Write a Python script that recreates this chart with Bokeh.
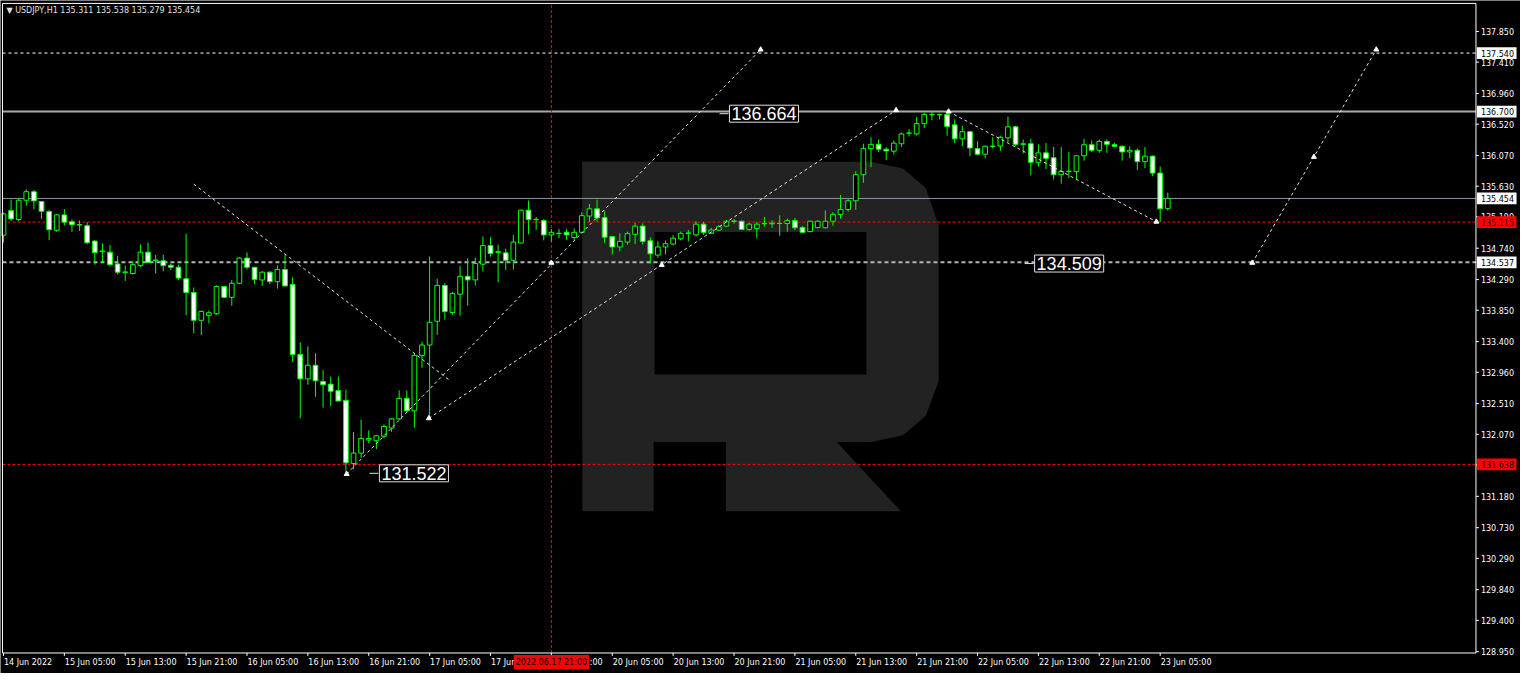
from bokeh.plotting import figure
from bokeh.models import Range1d, Label
from bokeh.embed import file_html
from bokeh.resources import INLINE
from bokeh.core.properties import value

# ---------------- data (USDJPY H1, bar index 0 = 14 Jun 21:00) ----------------
opens = [134.927, 135.28, 135.152, 135.429, 135.551, 135.41, 135.265, 134.997, 135.218, 135.119,
         135.072, 135.063, 134.842, 134.69, 134.683, 134.514, 134.39, 134.377, 134.49, 134.683,
         134.56, 134.56, 134.495, 134.467, 134.302, 134.105, 133.706, 133.777, 133.80, 134.19,
         134.035, 134.237, 134.598, 134.467, 134.284, 134.396, 134.26, 134.434, 134.22, 133.216,
         132.865, 133.061, 132.828, 132.79, 132.697, 132.557, 131.651, 131.80, 131.987, 131.978,
         132.043, 132.16, 132.291, 132.585, 132.407, 133.202, 133.351, 133.692, 134.206, 133.818,
         134.08, 134.337, 134.285, 134.511, 134.777, 134.68, 134.674, 134.567, 134.814, 135.286,
         135.15, 135.137, 134.931, 134.95, 134.968, 134.894, 134.968, 135.202, 135.305, 135.179,
         134.908, 134.758, 134.828, 134.94, 135.057, 134.847, 134.641, 134.758, 134.80, 134.875,
         134.95, 134.931, 135.085, 134.954, 135.001, 135.057, 135.125, 135.127, 135.01, 135.024,
         135.09, 135.09, 135.095, 135.094, 135.136, 135.038, 134.978, 135.038, 135.034, 135.127,
         135.225, 135.295, 135.421, 135.795, 136.169, 136.23, 136.16, 136.132, 136.239, 136.39,
         136.379, 136.529, 136.655, 136.655, 136.66, 136.51, 136.309, 136.412, 136.169, 136.089,
         136.20, 136.206, 136.323, 136.482, 136.23, 136.239, 135.973, 136.108, 136.038, 135.795,
         135.84, 135.842, 136.066, 136.225, 136.145, 136.272, 136.225, 136.202, 136.122, 136.145,
         135.982, 136.061, 135.818, 135.311]
highs = [135.25, 135.44, 135.457, 135.584, 135.575, 135.415, 135.288, 135.232, 135.302, 135.152,
         135.138, 135.114, 134.856, 134.81, 134.786, 134.631, 134.49, 134.551, 134.795, 134.823,
         134.645, 134.645, 134.518, 134.504, 134.95, 134.176, 133.847, 133.847, 134.208, 134.199,
         134.284, 134.612, 134.678, 134.471, 134.41, 134.41, 134.495, 134.645, 134.323, 133.388,
         133.332, 133.234, 132.991, 132.898, 132.898, 132.711, 132.104, 132.281, 132.127, 132.057,
         132.211, 132.305, 132.702, 132.697, 133.225, 133.398, 134.62, 134.30, 134.239, 134.113,
         134.486, 134.594, 134.604, 134.908, 134.898, 134.791, 134.735, 134.931, 135.295, 135.422,
         135.188, 135.155, 135.015, 135.015, 135.015, 135.024, 135.258, 135.375, 135.436, 135.272,
         134.917, 134.954, 134.978, 135.104, 135.095, 134.894, 134.838, 134.852, 134.93, 134.977,
         135.001, 135.127, 135.118, 135.034, 135.071, 135.146, 135.155, 135.137, 135.104, 135.118,
         135.188, 135.141, 135.211, 135.165, 135.174, 135.057, 135.137, 135.141, 135.281, 135.258,
         135.505, 135.445, 135.842, 136.239, 136.332, 136.30, 136.19, 136.286, 136.402, 136.449,
         136.622, 136.683, 136.706, 136.67, 136.70, 136.589, 136.496, 136.426, 136.276, 136.216,
         136.332, 136.356, 136.627, 136.496, 136.30, 136.309, 136.23, 136.248, 136.192, 136.192,
         136.122, 136.075, 136.309, 136.286, 136.30, 136.30, 136.253, 136.216, 136.202, 136.169,
         136.192, 136.07, 135.912, 135.538]
lows = [134.82, 135.13, 135.128, 135.349, 135.30, 135.16, 134.856, 134.974, 135.067, 134.974,
        134.988, 134.795, 134.504, 134.527, 134.481, 134.363, 134.27, 134.363, 134.471, 134.527,
        134.377, 134.41, 134.424, 134.284, 133.777, 133.518, 133.495, 133.659, 133.786, 134.021,
        133.917, 134.223, 134.434, 134.223, 134.199, 134.223, 134.161, 134.19, 133.108, 132.30,
        132.781, 132.608, 132.454, 132.478, 132.54, 131.522, 131.567, 131.73, 131.94, 131.856,
        132.01, 132.104, 132.277, 132.384, 132.164, 133.024, 132.29, 133.496, 133.715, 133.786,
        133.772, 133.916, 134.206, 134.403, 134.618, 134.254, 134.427, 134.431, 134.805, 134.94,
        135.001, 134.852, 134.838, 134.884, 134.861, 134.852, 134.959, 135.118, 135.118, 134.814,
        134.651, 134.697, 134.791, 134.80, 134.791, 134.52, 134.604, 134.651, 134.78, 134.852,
        134.837, 134.907, 134.931, 134.94, 134.987, 135.048, 135.094, 135.001, 134.992, 134.884,
        135.048, 135.034, 134.917, 134.977, 135.001, 134.964, 134.968, 135.024, 135.024, 135.062,
        135.164, 135.267, 135.291, 135.678, 135.903, 136.12, 136.005, 136.085, 136.192, 136.342,
        136.356, 136.463, 136.575, 136.589, 136.356, 136.248, 136.202, 136.061, 136.075, 136.029,
        136.169, 136.136, 136.262, 136.202, 136.099, 135.786, 135.912, 135.875, 135.725, 135.669,
        135.748, 135.734, 135.996, 136.122, 136.108, 136.108, 136.192, 135.996, 136.029, 135.865,
        135.889, 135.772, 135.115, 135.279]
closes = [135.232, 135.16, 135.429, 135.551, 135.419, 135.27, 135.006, 135.218, 135.114, 135.077,
          135.08, 134.819, 134.678, 134.70, 134.504, 134.396, 134.40, 134.504, 134.683, 134.537,
          134.57, 134.49, 134.467, 134.312, 134.105, 133.706, 133.833, 133.814, 134.19, 134.035,
          134.237, 134.598, 134.467, 134.293, 134.396, 134.26, 134.434, 134.199, 133.216, 132.865,
          133.061, 132.837, 132.781, 132.688, 132.548, 131.66, 131.80, 132.01, 132.01, 132.048,
          132.183, 132.291, 132.585, 132.407, 133.202, 133.351, 133.678, 134.206, 133.832, 134.089,
          134.337, 134.285, 134.52, 134.777, 134.665, 134.69, 134.567, 134.828, 135.286, 135.151,
          135.155, 134.931, 134.968, 134.955, 134.931, 134.968, 135.207, 135.305, 135.174, 134.898,
          134.758, 134.838, 134.95, 135.057, 134.838, 134.66, 134.758, 134.805, 134.884, 134.954,
          134.96, 135.085, 134.964, 135.001, 135.048, 135.127, 135.13, 135.01, 135.085, 135.085,
          135.095, 135.10, 135.094, 135.136, 135.034, 134.968, 135.127, 135.127, 135.127, 135.225,
          135.295, 135.421, 135.795, 136.169, 136.23, 136.16, 136.136, 136.248, 136.379, 136.393,
          136.529, 136.659, 136.66, 136.66, 136.487, 136.309, 136.412, 136.178, 136.089, 136.202,
          136.206, 136.332, 136.482, 136.23, 136.239, 135.973, 136.108, 136.029, 135.795, 135.842,
          135.845, 136.066, 136.225, 136.145, 136.272, 136.23, 136.202, 136.122, 136.145, 135.982,
          136.061, 135.818, 135.305, 135.454]

time_tick_idx = [0, 8, 16, 24, 32, 40, 48, 56, 64, 72, 80, 88, 96, 104, 112, 120, 128, 136, 144, 152]
time_tick_labels = ["14 Jun 2022", "15 Jun 05:00", "15 Jun 13:00", "15 Jun 21:00", "16 Jun 05:00",
                    "16 Jun 13:00", "16 Jun 21:00", "17 Jun 05:00", "17 Jun 13:00", "17 Jun 21:00",
                    "20 Jun 05:00", "20 Jun 13:00", "20 Jun 21:00", "21 Jun 05:00", "21 Jun 13:00",
                    "21 Jun 21:00", "22 Jun 05:00", "22 Jun 13:00", "22 Jun 21:00", "23 Jun 05:00"]
price_ticks = [137.850, 137.410, 136.960, 136.520, 136.070, 135.630, 135.190, 134.740, 134.290,
               133.850, 133.400, 132.960, 132.510, 132.070, 131.630, 131.180, 130.730, 130.290,
               129.840, 129.400, 128.950]
price_tick_labels = ["%.3f" % v for v in price_ticks]

# horizontal levels
level_tp = 137.540
level_high = 136.700
level_bid = 135.454
level_red1 = 135.115
level_grey = 134.537
level_red2 = 131.638
cross_idx = 72
cross_label = "2022.06.17 21:00"

# forecast (dotted) segments: bar index / price
seg_x0 = [25.0, 45.1, 55.9, 124.2, 164.1]
seg_y0 = [135.66, 131.50, 132.30, 136.70, 134.53]
seg_x1 = [58.8, 99.5, 117.3, 151.5, 180.4]
seg_y1 = [132.83, 137.59, 136.72, 135.12, 137.59]
mark_x = [45.1, 55.9, 72.0, 86.5, 99.5, 117.3, 124.2, 151.5, 164.1, 172.2, 180.4]
mark_y = [131.50, 132.30, 134.53, 134.50, 137.59, 136.72, 136.70, 135.12, 134.53, 136.05, 137.59]

# boxed price notes
note_text = ["136.664", "134.509", "131.522"]
note_x = [95.4, 135.5, 49.4]
note_y = [136.67, 134.52, 131.51]

title_text = "\u25BC USDJPY,H1  135.311 135.538 135.279 135.454"

# ---------------- geometry: whole canvas == reference screenshot ----------------
W, H = 1520, 673
REF_W, REF_H = 1536, 689
BAR_PX, BAR0_PX = 7.69, 3.0          # reference pixels per bar, x of bar 0
P_REF, Y_REF, PPU = 137.85, 31.7, 71.35   # reference price/pixel mapping

def bx(px):
    return (px - BAR0_PX) / BAR_PX

def by(ypx):
    return P_REF - (ypx - Y_REF) / PPU

def dx(px):
    return px / BAR_PX

def dy(px):
    return px / PPU

L, R, T, B = 2, 1491, 3, 668       # chart frame in reference pixels
xl, xr, yt, yb = bx(L), bx(R), by(T), by(B)

p = figure(width=W, height=H, output_backend="svg", toolbar_location=None,
           x_range=Range1d(bx(0), bx(REF_W)), y_range=Range1d(by(REF_H), by(0)),
           min_border=0)
p.min_border_left = p.min_border_right = p.min_border_top = p.min_border_bottom = 0
p.background_fill_color = "black"
p.border_fill_color = "black"
p.outline_line_color = None
p.axis.visible = False
p.xgrid.visible = False
p.ygrid.visible = False

# ---------------- watermark "R" ----------------
LOGO = "#222222"
p.quad(left=bx(588), right=bx(660), top=by(165), bottom=by(523), fill_color=LOGO, line_color=None)
bowl_x = [bx(588), bx(880), bx(912), bx(935), bx(948), bx(948), bx(935), bx(912), bx(880), bx(588)]
bowl_y = [by(165), by(165), by(172), by(192), by(230), by(390), by(425), by(445), by(452), by(452)]
p.patch(bowl_x, bowl_y, fill_color=LOGO, line_color=None)
p.quad(left=bx(661), right=bx(875), top=by(237), bottom=by(383), fill_color="black", line_color=None)
p.patch([bx(733), bx(845), bx(910), bx(733)], [by(452), by(452), by(523), by(523)],
        fill_color=LOGO, line_color=None)

# ---------------- levels ----------------
def hline(v, color, dash="solid", w=1):
    p.segment([xl], [v], [xr], [v], line_color=color, line_dash=dash, line_width=w)

hline(level_tp, "#FFFFFF", "3 3")
hline(level_high, "#AAAAAA", "solid", 2)
hline(level_bid, "#8895A8")
hline(level_red1, "#FF0000", "3 2")
hline(level_grey, "#B4B4B4", "4 3", 2)
hline(level_red2, "#FF0000", "3 2")
p.segment([cross_idx], [yb], [cross_idx], [yt], line_color="#FF0000", line_dash="3 2", line_width=1)

# ---------------- candles ----------------
idx = list(range(len(opens)))
p.segment(idx, lows, idx, highs, line_color="#00FF00", line_width=1)
bull = [i for i in idx if closes[i] >= opens[i]]
bear = [i for i in idx if closes[i] < opens[i]]
p.vbar(x=bull, top=[closes[i] for i in bull], bottom=[opens[i] for i in bull], width=0.62,
       fill_color="black", line_color="#00FF00", line_width=1)
p.vbar(x=bear, top=[opens[i] for i in bear], bottom=[closes[i] for i in bear], width=0.62,
       fill_color="white", line_color="#00FF00", line_width=1)

# ---------------- forecast lines ----------------
p.segment(seg_x0, seg_y0, seg_x1, seg_y1, line_color="#E4E4E4", line_dash="3 3", line_width=1)
p.scatter(mark_x, mark_y, marker="triangle", size=5, fill_color="white", line_color="white")

for t, x, y in zip(note_text, note_x, note_y):
    p.segment([x - dx(10)], [y], [x - dx(1)], [y], line_color="#E0E0E0", line_width=1)
    p.add_layout(Label(x=x, y=y, text=t, text_color="white", text_font="Liberation Sans",
                       text_font_size="18px", text_baseline="middle", text_align="left",
                       background_fill_color="black", border_line_color="#E0E0E0",
                       border_line_width=1, padding=2))

# ---------------- chart frame ----------------
p.quad(left=xl, right=xr, top=yt, bottom=yb, fill_color=None, line_color="#FFFFFF", line_width=1)

# ---------------- right price scale ----------------
p.segment([xr] * len(price_ticks), price_ticks, [xr + dx(3)] * len(price_ticks), price_ticks,
          line_color="white", line_width=1)
p.text(x=[xr + dx(5)] * len(price_ticks), y=price_ticks, text=price_tick_labels,
       text_color="white", text_font=value("DejaVu Sans"), text_font_size=value("8px"),
       text_align="left", text_baseline="middle")

boxes_v = [level_tp, level_high, level_bid, level_red1, level_grey, level_red2]
boxes_c = ["#FFFFFF", "#FFFFFF", "#FFFFFF", "#FF0000", "#FFFFFF", "#FF0000"]
p.quad(left=[xr + dx(1)] * 6, right=[xr + dx(41)] * 6,
       top=[v + dy(6) for v in boxes_v], bottom=[v - dy(6) for v in boxes_v],
       fill_color=boxes_c, line_color=None)
p.text(x=[xr + dx(5)] * 6, y=boxes_v, text=["%.3f" % v for v in boxes_v],
       text_color="black", text_font=value("DejaVu Sans"), text_font_size=value("8px"),
       text_align="left", text_baseline="middle")

# ---------------- bottom time scale ----------------
p.segment(time_tick_idx, [yb] * len(time_tick_idx), time_tick_idx, [yb - dy(3)] * len(time_tick_idx),
          line_color="white", line_width=1)
p.text(x=[i + dx(0.5) for i in time_tick_idx], y=[by(678)] * len(time_tick_idx), text=time_tick_labels,
       text_color="white", text_font=value("DejaVu Sans"), text_font_size=value("8px"),
       text_align="left", text_baseline="middle")
p.quad(left=[cross_idx - dx(38)], right=[cross_idx + dx(38)], top=[by(670)], bottom=[by(685)],
       fill_color="#FF0000", line_color=None)
p.text(x=[cross_idx], y=[by(678)], text=[cross_label], text_color="black",
       text_font=value("DejaVu Sans"), text_font_size=value("8px"),
       text_align="center", text_baseline="middle")

# ---------------- title ----------------
p.text(x=[bx(6)], y=[by(10)], text=[title_text], text_color="#E0E0E0",
       text_font=value("DejaVu Sans"), text_font_size=value("8px"),
       text_align="left", text_baseline="middle")

open("out.html", "w").write(file_html(p, INLINE))
